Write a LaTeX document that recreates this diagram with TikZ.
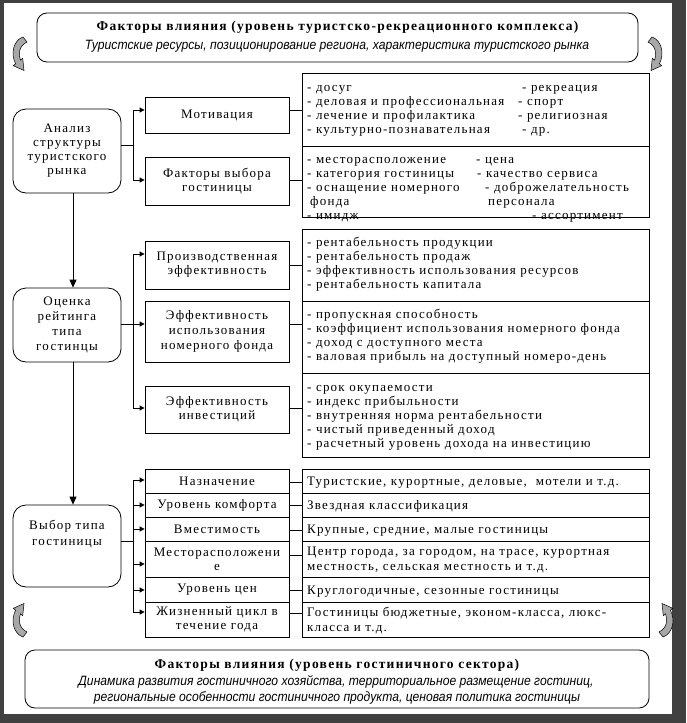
\documentclass[tikz,border=0pt]{standalone}
\usepackage{fontspec}
\setmainfont{Liberation Serif}[LetterSpace=9.5]
\newfontfamily\narrowsans[FakeStretch=0.9]{Liberation Sans}
\usetikzlibrary{arrows.meta}
\definecolor{framegray}{HTML}{404040}
\definecolor{arrgray}{HTML}{A8A8A8}
\newcommand\fs{\fontsize{13}{14}\selectfont}
\newcommand\bfs{\fontsize{13.5}{14}\selectfont\bfseries}
\newcommand\its{\narrowsans\itshape\fontsize{13.5}{16}\selectfont}
\newcommand\rline[4]{\node[txt] (#1) at (#2,#3) {#4};}
\begin{document}
\begin{tikzpicture}[x=1pt,y=-1pt,
  txt/.style={anchor=base west, inner sep=0pt, font=\fs},
  rbox/.style={draw, line width=0.8pt, inner sep=0pt, minimum width=347pt},
  mbox/.style={draw, line width=0.8pt, inner sep=0pt, align=center, font=\fs, minimum width=144pt},
  lbox/.style={draw, line width=0.8pt, rounded corners=13pt, inner sep=0pt, minimum width=108pt, align=center, font=\fs},
  banner/.style={draw, line width=0.8pt, rounded corners=10pt, inner sep=0pt},
  conn/.style={line width=0.8pt},
  brarr/.style={line width=0.8pt, -{Triangle[length=5pt,width=5pt]}},
  varr/.style={line width=0.8pt, -{Triangle[length=8pt,width=7pt]}},
  curvarr/.pic={
    \filldraw[fill=arrgray, draw=black, line width=0.5pt]
      (23,37) .. controls (14,40) and (10,53) .. (15.6,63.8) -- (13.3,65.7)
      -- (24,70.5) -- (22.7,58.3) -- (20.4,60.1)
      .. controls (18,54) and (19,46) .. (27,42) -- cycle;
  }
]
% frame
\fill[framegray] (0,0) rectangle (686,723);
\fill[white] (4,3) rectangle (672,714);

% curved arrows
\pic at (0,0) {curvarr};
\pic[xscale=-1] at (675,0) {curvarr};
\pic[yscale=-1] at (0,674) {curvarr};
\pic[xscale=-1,yscale=-1] at (686,674) {curvarr};

% banners
\node[banner, minimum width=601pt, minimum height=49pt] (top) at (337.5,37.5) {};
\node[font=\bfs, inner sep=0pt] (toptitle) at (337.5,27) {Факторы влияния (уровень туристско-рекреационного комплекса)};
\node[font=\its, inner sep=0pt] (topsub) at (337,46) {Туристские ресурсы, позиционирование региона, характеристика туристского рынка};

\node[banner, minimum width=624pt, minimum height=58pt] (bot) at (337,679) {};
\node[font=\bfs, inner sep=0pt] (bottitle) at (337,665) {Факторы влияния (уровень гостиничного сектора)};
\node[font=\its, inner sep=0pt] (botsub1) at (336,682) {Динамика развития гостиничного хозяйства, территориальное размещение гостиниц,};
\node[font=\its, inner sep=0pt] (botsub2) at (337,698) {региональные особенности гостиничного продукта, ценовая политика гостиницы};

% left boxes
\node[lbox, minimum height=84pt] (box1) at (67,151) {Анализ\\структуры\\туристского\\рынка};
\node[lbox, minimum height=74pt] (box2) at (67,325) {Оценка\\[1pt]рейтинга\\[1pt]типа\\[1pt]гостинцы};
\node[lbox, minimum height=82pt] (box3) at (67,546) {};
\node[font=\fs, align=center, inner sep=0pt] (box3t) at (67,534) {Выбор типа\\[2pt]гостиницы};

% middle boxes
\node[mbox, minimum height=36pt] (mot) at (217,115) {Мотивация};
\node[mbox, minimum height=48pt] (fac) at (217,181) {Факторы выбора\\гостиницы};
\node[mbox, minimum height=48pt] (prod) at (217,265) {Производственная\\эффективность};
\node[mbox, minimum height=61pt] (eff) at (217,331.5) {Эффективность\\[1pt]использования\\[1pt]номерного фонда};
\node[mbox, minimum height=47pt] (inv) at (217,409.5) {Эффективность\\инвестиций};
\node[mbox, minimum height=24pt] (m1) at (217,481) {Назначение};
\node[mbox, minimum height=24pt] (m2) at (217,505) {Уровень комфорта};
\node[mbox, minimum height=24pt] (m3) at (217,529) {Вместимость};
\node[mbox, minimum height=36pt] (m4) at (217,559) {Месторасположени\\е};
\node[mbox, minimum height=25pt] (m5) at (217,589.5) {Уровень цен};
\node[mbox, minimum height=35pt] (m6) at (217,619.5) {Жизненный цикл в\\течение года};

% right boxes
\node[rbox, minimum height=73pt] (rmot) at (475.5,109.5) {};
\node[rbox, minimum height=71pt] (rfac) at (475.5,181.5) {};
\node[rbox, minimum height=72pt] (rprod) at (475.5,265) {};
\node[rbox, minimum height=72pt] (reff) at (475.5,337) {};
\node[rbox, minimum height=84pt] (rinv) at (475.5,415) {};
\node[rbox, minimum height=24pt] (r1) at (475.5,481) {};
\node[rbox, minimum height=24pt] (r2) at (475.5,505) {};
\node[rbox, minimum height=24pt] (r3) at (475.5,529) {};
\node[rbox, minimum height=36pt] (r4) at (475.5,559) {};
\node[rbox, minimum height=25pt] (r5) at (475.5,589.5) {};
\node[rbox, minimum height=35pt] (r6) at (475.5,619.5) {};

% right texts: motivation
\rline{ma1}{307}{91}{- досуг}
\rline{ma2}{307}{105}{- деловая и профессиональная}
\rline{ma3}{307}{119}{- лечение и профилактика}
\rline{ma4}{307}{133}{- культурно-познавательная}
\rline{mb1}{522}{91}{- рекреация}
\rline{mb2}{518}{105}{- спорт}
\rline{mb3}{518}{119}{- религиозная}
\rline{mb4}{522}{133}{- др.}
% factors
\rline{fa1}{307}{163}{- месторасположение}
\rline{fa2}{307}{177}{- категория гостиницы}
\rline{fa3}{307}{191}{- оснащение номерного}
\rline{fa4}{310}{205}{фонда}
\rline{fa5}{307}{219}{- имидж}
\rline{fb1}{476}{163}{- цена}
\rline{fb2}{477}{177}{- качество сервиса}
\rline{fb3}{485}{191}{- доброжелательность}
\rline{fb4}{488}{205}{персонала}
\rline{fb5}{532}{219}{- ассортимент}
% production
\rline{pa1}{307}{246}{- рентабельность продукции}
\rline{pa2}{307}{260}{- рентабельность продаж}
\rline{pa3}{307}{274}{- эффективность использования ресурсов}
\rline{pa4}{307}{288}{- рентабельность капитала}
% room stock
\rline{ea1}{307}{318}{- пропускная способность}
\rline{ea2}{307}{332}{- коэффициент использования номерного фонда}
\rline{ea3}{307}{346}{- доход с доступного места}
\rline{ea4}{307}{360}{- валовая прибыль на доступный номеро-день}
% investments
\rline{ia1}{307}{391}{- срок окупаемости}
\rline{ia2}{307}{405}{- индекс прибыльности}
\rline{ia3}{307}{419}{- внутренняя норма рентабельности}
\rline{ia4}{307}{433}{- чистый приведенный доход}
\rline{ia5}{307}{447}{- расчетный уровень дохода на инвестицию}
% hotel type
\rline{ta1}{307}{485}{Туристские, курортные, деловые,\ \ мотели и т.д.}
\rline{ta2}{307}{509}{Звездная классификация}
\rline{ta3}{307}{533}{Крупные, средние, малые гостиницы}
\rline{ta4}{307}{555}{Центр города, за городом, на трасе, курортная}
\rline{ta5}{307}{570}{местность, сельская местность и т.д.}
\rline{ta6}{307}{594}{Круглогодичные, сезонные гостиницы}
\rline{ta7}{307}{616}{Гостиницы бюджетные, эконом-класса, люкс-}
\rline{ta8}{307}{631}{класса и т.д.}

% connectors group 1
\coordinate (j1) at (133,145);
\coordinate (t1a) at (133,110);
\coordinate (t1b) at (133,180);
\draw[conn] (box1.east |- j1) -- (j1);
\draw[conn] (t1a) -- (t1b);
\draw[brarr] (t1a) -- (mot.west |- t1a);
\draw[brarr] (t1b) -- (fac.west |- t1b);
\draw[conn] (mot.east |- t1a) -- (rmot.west |- t1a);
\draw[conn] (fac.east |- t1b) -- (rfac.west |- t1b);

% connectors group 2
\coordinate (j2) at (133,324);
\coordinate (t2a) at (133,254);
\coordinate (t2c) at (133,408);
\draw[conn] (box2.east |- j2) -- (j2);
\draw[conn] (t2a) -- (t2c);
\draw[brarr] (t2a) -- (prod.west |- t2a);
\draw[brarr] (j2) -- (eff.west |- j2);
\draw[brarr] (t2c) -- (inv.west |- t2c);
\draw[conn] (prod.east) -- (rprod.west |- prod.east);
\draw[conn] (eff.east |- j2) -- (reff.west |- j2);
\draw[conn] (inv.east |- t2c) -- (rinv.west |- t2c);

% connectors group 3
\coordinate (j3) at (133,541);
\draw[conn] (box3.east |- j3) -- (j3);
\foreach \i/\ya/\yb in {1/480/482, 2/505/505, 3/529/530, 4/564/555, 5/590/590, 6/612/613} {
  \coordinate (b\i) at (133,\ya);
  \coordinate (c\i) at (289,\yb);
  \draw[brarr] (b\i) -- (m\i.west |- b\i);
  \draw[conn] (m\i.east |- c\i) -- (r\i.west |- c\i);
}
\draw[conn] (b1) -- (b6);

% vertical arrows
\coordinate (vx) at (73,0);
\draw[varr] (box1.south -| vx) -- (box2.north -| vx);
\draw[varr] (box2.south -| vx) -- (box3.north -| vx);
\end{tikzpicture}
\end{document}
